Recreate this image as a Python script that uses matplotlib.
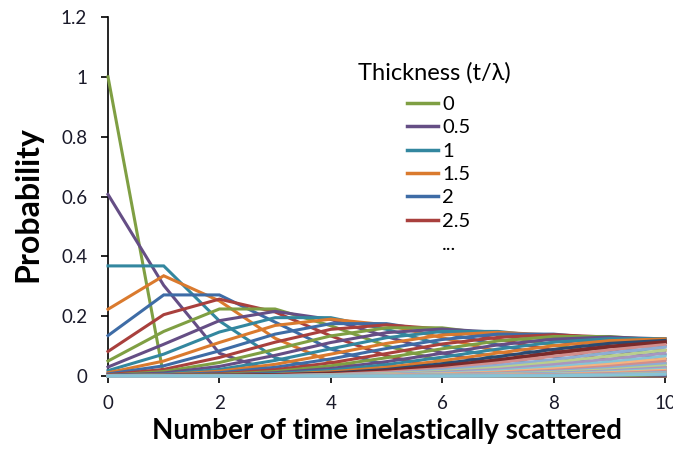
import matplotlib
matplotlib.use("Agg")
import matplotlib.pyplot as plt
from matplotlib.lines import Line2D

plt.rcParams['font.family'] = ['Lato', 'DejaVu Sans']

n_scatter = [0, 1, 2, 3, 4, 5, 6, 7, 8, 9, 10]
thickness = [0, 0.5, 1, 1.5, 2, 2.5, 3, 3.5, 4, 4.5, 5, 5.5, 6, 6.5, 7, 7.5, 8, 8.5, 9, 9.5,
             10, 10.5, 11, 11.5, 12, 12.5, 13, 13.5, 14, 14.5, 15, 15.5, 16, 16.5, 17, 17.5,
             18, 18.5, 19, 19.5, 20]
legend_labels = ['0', '0.5', '1', '1.5', '2', '2.5', '...']

P0_0 = [1.000, 0, 0, 0, 0, 0, 0, 0, 0, 0, 0]
P0_5 = [0.607, 0.303, 0.076, 0.013, 0.002, 0, 0, 0, 0, 0, 0]
P1_0 = [0.368, 0.368, 0.184, 0.061, 0.015, 0.003, 0.001, 0, 0, 0, 0]
P1_5 = [0.223, 0.335, 0.251, 0.126, 0.047, 0.014, 0.004, 0.001, 0, 0, 0]
P2_0 = [0.135, 0.271, 0.271, 0.180, 0.090, 0.036, 0.012, 0.003, 0.001, 0, 0]
P2_5 = [0.082, 0.205, 0.257, 0.214, 0.134, 0.067, 0.028, 0.010, 0.003, 0.001, 0]
P3_0 = [0.050, 0.149, 0.224, 0.224, 0.168, 0.101, 0.050, 0.022, 0.008, 0.003, 0.001]
P3_5 = [0.030, 0.106, 0.185, 0.216, 0.189, 0.132, 0.077, 0.039, 0.017, 0.007, 0.002]
P4_0 = [0.018, 0.073, 0.147, 0.195, 0.195, 0.156, 0.104, 0.060, 0.030, 0.013, 0.005]
P4_5 = [0.011, 0.050, 0.112, 0.169, 0.190, 0.171, 0.128, 0.082, 0.046, 0.023, 0.010]
P5_0 = [0.007, 0.034, 0.084, 0.140, 0.175, 0.175, 0.146, 0.104, 0.065, 0.036, 0.018]
P5_5 = [0.004, 0.022, 0.062, 0.113, 0.156, 0.171, 0.157, 0.123, 0.085, 0.052, 0.029]
P6_0 = [0.002, 0.015, 0.045, 0.089, 0.134, 0.161, 0.161, 0.138, 0.103, 0.069, 0.041]
P6_5 = [0.002, 0.010, 0.032, 0.069, 0.112, 0.145, 0.157, 0.146, 0.119, 0.086, 0.056]
P7_0 = [0.001, 0.006, 0.022, 0.052, 0.091, 0.128, 0.149, 0.149, 0.130, 0.101, 0.071]
P7_5 = [0.001, 0.004, 0.016, 0.039, 0.073, 0.109, 0.137, 0.146, 0.137, 0.114, 0.086]
P8_0 = [0, 0.003, 0.011, 0.029, 0.057, 0.092, 0.122, 0.140, 0.140, 0.124, 0.099]
P8_5 = [0, 0.002, 0.007, 0.021, 0.044, 0.075, 0.107, 0.129, 0.138, 0.130, 0.110]
P9_0 = [0, 0.001, 0.005, 0.015, 0.034, 0.061, 0.091, 0.117, 0.132, 0.132, 0.119]
P9_5 = [0, 0.001, 0.003, 0.011, 0.025, 0.048, 0.076, 0.104, 0.123, 0.130, 0.124]
P10_0 = [0, 0, 0.002, 0.008, 0.019, 0.038, 0.063, 0.090, 0.113, 0.125, 0.125]
P10_5 = [0, 0, 0.002, 0.005, 0.014, 0.029, 0.051, 0.077, 0.101, 0.118, 0.124]
P11_0 = [0, 0, 0.001, 0.004, 0.010, 0.022, 0.041, 0.065, 0.089, 0.109, 0.119]
P11_5 = [0, 0, 0.001, 0.003, 0.007, 0.017, 0.033, 0.053, 0.077, 0.098, 0.113]
P12_0 = [0, 0, 0, 0.002, 0.005, 0.013, 0.025, 0.044, 0.066, 0.087, 0.105]
P12_5 = [0, 0, 0, 0.001, 0.004, 0.009, 0.020, 0.035, 0.055, 0.077, 0.096]
P13_0 = [0, 0, 0, 0.001, 0.003, 0.007, 0.015, 0.028, 0.046, 0.066, 0.086]
P13_5 = [0, 0, 0, 0.001, 0.002, 0.005, 0.012, 0.022, 0.038, 0.056, 0.076]
P14_0 = [0, 0, 0, 0, 0.001, 0.004, 0.009, 0.017, 0.030, 0.047, 0.066]
P14_5 = [0, 0, 0, 0, 0.001, 0.003, 0.007, 0.013, 0.024, 0.039, 0.057]
P15_0 = [0, 0, 0, 0, 0.001, 0.002, 0.005, 0.010, 0.019, 0.032, 0.049]
P15_5 = [0, 0, 0, 0, 0, 0.001, 0.004, 0.008, 0.015, 0.026, 0.041]
P16_0 = [0, 0, 0, 0, 0, 0.001, 0.003, 0.006, 0.012, 0.021, 0.034]
P16_5 = [0, 0, 0, 0, 0, 0.001, 0.002, 0.005, 0.009, 0.017, 0.028]
P17_0 = [0, 0, 0, 0, 0, 0, 0.001, 0.003, 0.007, 0.014, 0.023]
P17_5 = [0, 0, 0, 0, 0, 0, 0.001, 0.003, 0.005, 0.011, 0.019]
P18_0 = [0, 0, 0, 0, 0, 0, 0.001, 0.002, 0.004, 0.008, 0.015]
P18_5 = [0, 0, 0, 0, 0, 0, 0.001, 0.001, 0.003, 0.006, 0.012]
P19_0 = [0, 0, 0, 0, 0, 0, 0, 0.001, 0.002, 0.005, 0.009]
P19_5 = [0, 0, 0, 0, 0, 0, 0, 0.001, 0.002, 0.004, 0.007]
P20_0 = [0, 0, 0, 0, 0, 0, 0, 0.001, 0.001, 0.003, 0.006]

series = [P0_0, P0_5, P1_0, P1_5, P2_0, P2_5, P3_0, P3_5, P4_0, P4_5, P5_0, P5_5,
          P6_0, P6_5, P7_0, P7_5, P8_0, P8_5, P9_0, P9_5, P10_0, P10_5, P11_0, P11_5,
          P12_0, P12_5, P13_0, P13_5, P14_0, P14_5, P15_0, P15_5, P16_0, P16_5,
          P17_0, P17_5, P18_0, P18_5, P19_0, P19_5, P20_0]

base_colors = ['#7F9F43', '#654E85', '#33879F', '#DA7A2E', '#3E6CA6', '#A9403D']
dark_colors = ['#2B4A70', '#7A2A2A']
light_colors = ['#D28E8C', '#8EADD4', '#B9CF8E', '#A897C0', '#87C4D6', '#F5B480']


def color_for(i):
    if i < 22:
        return base_colors[i % 6]
    if i < 24:
        return dark_colors[i - 22]
    return light_colors[(i - 24) % 6]


fig = plt.figure(figsize=(6.73, 4.5), dpi=100)
ax = fig.add_axes([108 / 673, 1 - 376 / 450, (665 - 108) / 673, (376 - 17) / 450])

lines = []
for i, (t, vals) in enumerate(zip(thickness, series)):
    lw = 2.8 if i == 23 else 2.2
    ln, = ax.plot(n_scatter, vals, color=color_for(i), lw=lw, clip_on=False,
                  zorder=3, solid_joinstyle='miter')
    lines.append(ln)

ax.set_xlim(0, 10)
ax.set_ylim(0, 1.2)
ax.set_xticks([0, 2, 4, 6, 8, 10])
ax.set_yticks([0, 0.2, 0.4, 0.6, 0.8, 1.0, 1.2])
ax.set_yticklabels(['0', '0.2', '0.4', '0.6', '0.8', '1', '1.2'])
ax.spines['top'].set_visible(False)
ax.spines['right'].set_visible(False)
for s in ['left', 'bottom']:
    ax.spines[s].set_linewidth(1.2)
    ax.spines[s].set_color('black')
ax.tick_params(axis='both', direction='out', length=5, width=1.2, labelsize=13.5,
               colors='black', labelcolor='#1a1a2a')
ax.tick_params(axis='y', pad=10)
ax.tick_params(axis='x', pad=9)

ax.set_xlabel('Number of time inelastically scattered', fontsize=20, fontweight='bold',
              labelpad=4)
ax.set_ylabel('Probability', fontsize=23, fontweight='bold')
ax.yaxis.set_label_coords(-0.117, 0.479)

handles = lines[:6] + [Line2D([], [], color='none')]
leg = ax.legend(handles, legend_labels, loc='upper left',
                bbox_to_anchor=(407 / 673, 1 - 96 / 450), bbox_transform=fig.transFigure,
                frameon=False, fontsize=14.5, handlelength=1.55, handletextpad=0.2,
                labelspacing=0.31, borderpad=0, borderaxespad=0)
for h in leg.legend_handles:
    h.set_linewidth(2.5)

fig.text(358 / 673, 1 - 73 / 450, 'Thickness (t/λ)', fontsize=17, va='center', ha='left')

fig.savefig('out.png', dpi=100)
